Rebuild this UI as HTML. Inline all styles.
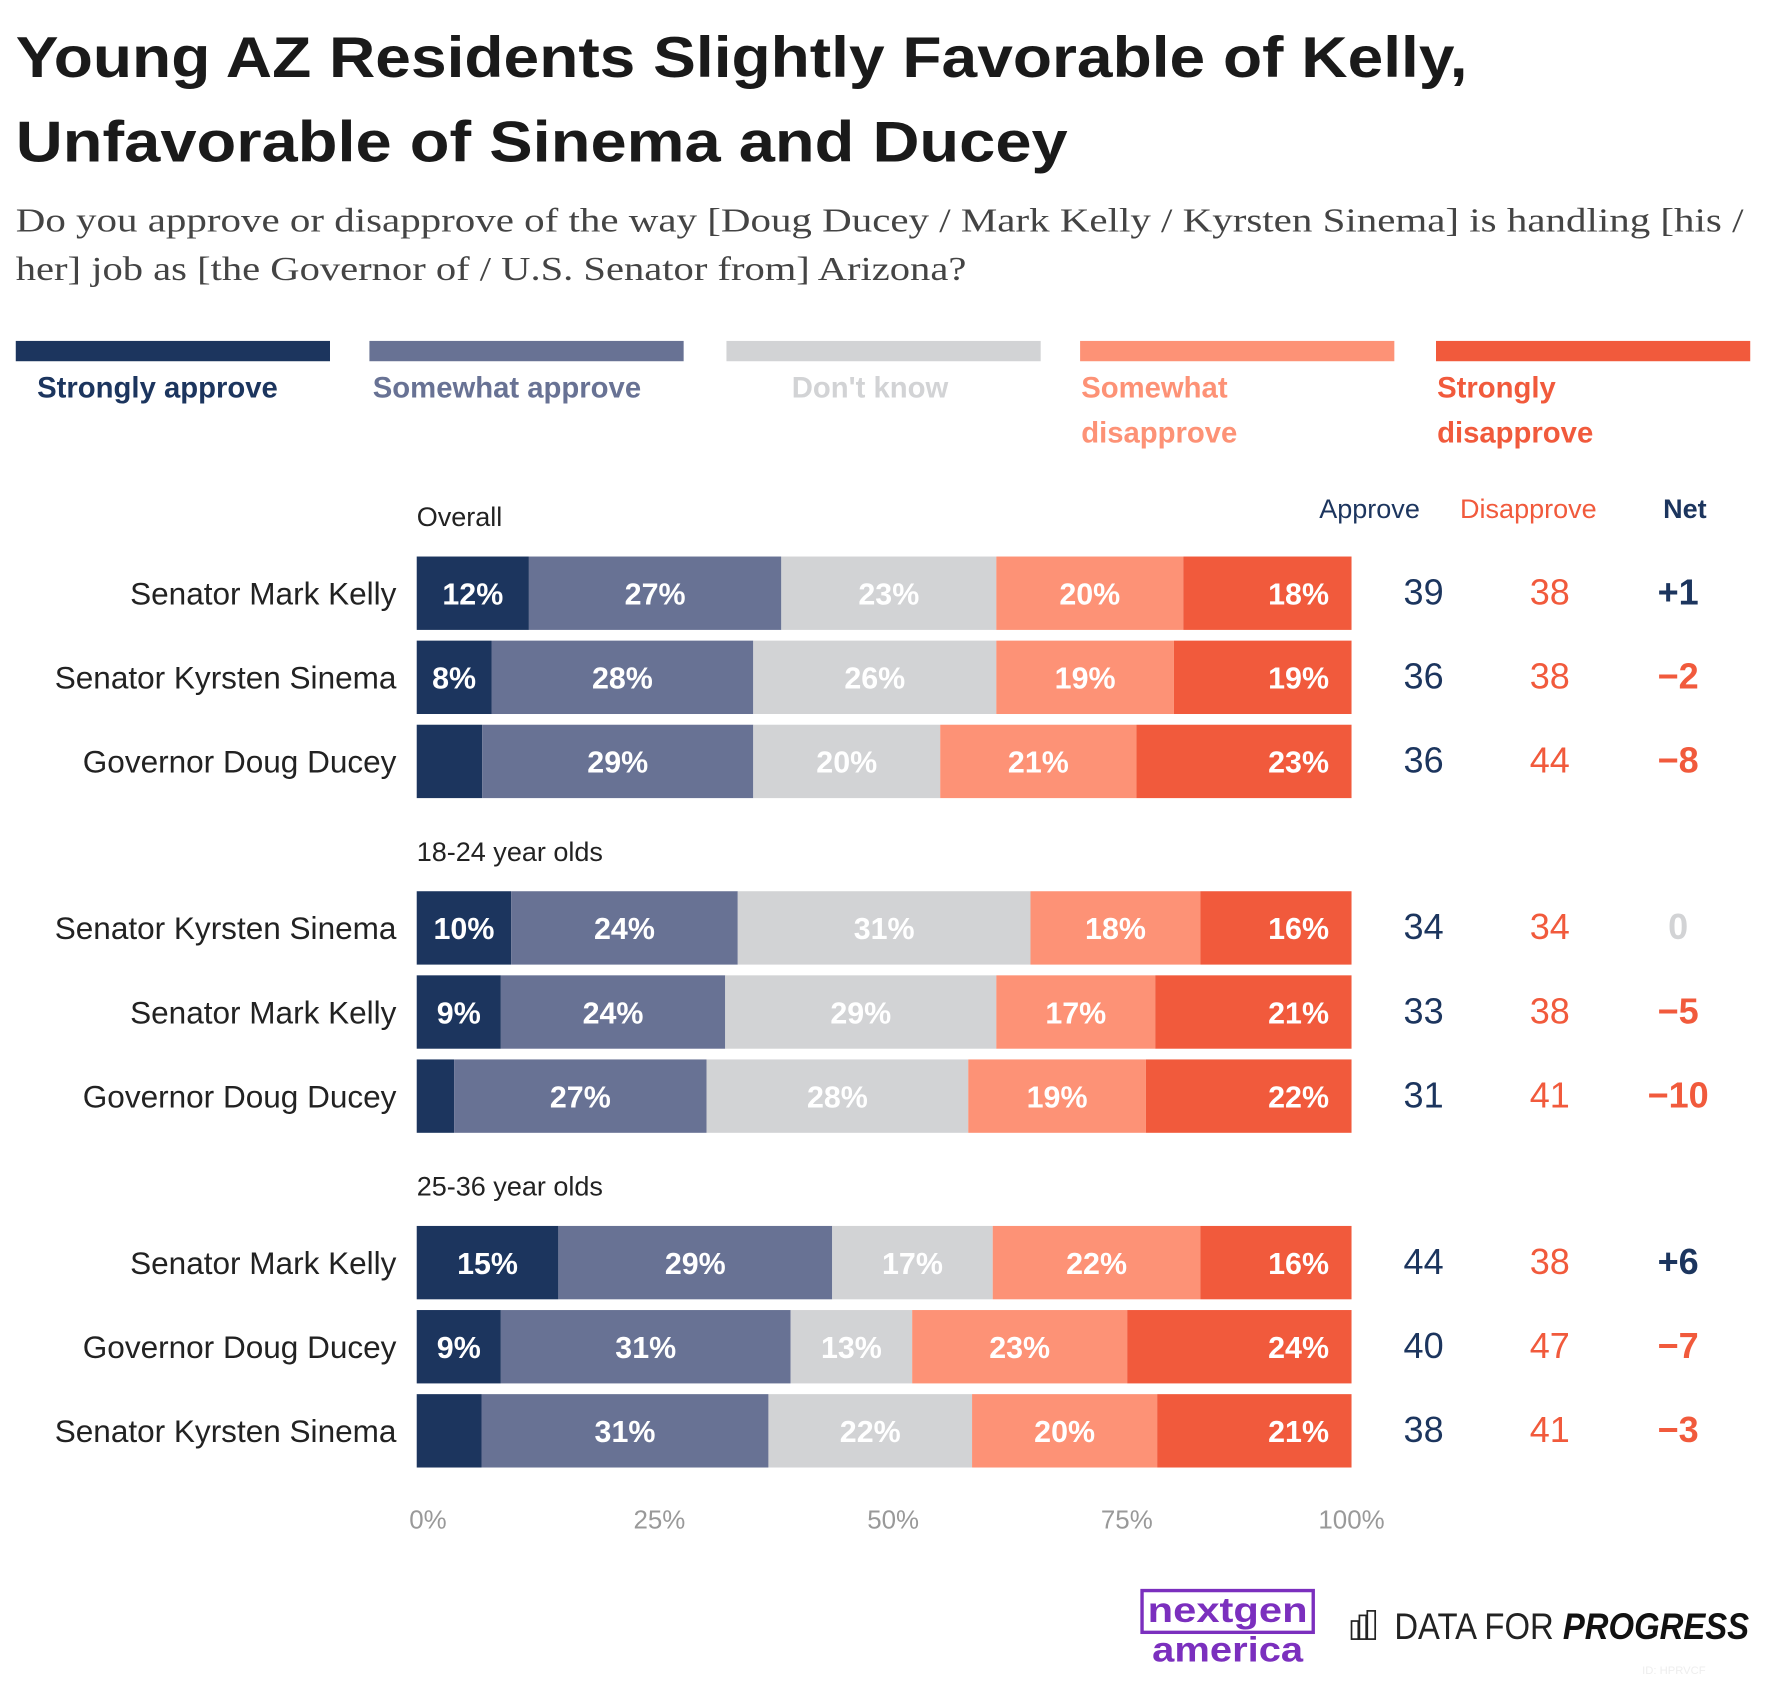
<!DOCTYPE html>
<html><head><meta charset="utf-8"><style>
html,body{margin:0;padding:0;background:#fff;}
svg{display:block;font-family:"Liberation Sans",sans-serif;}
</style></head><body>
<svg id="chart" width="1766" height="1682" viewBox="0 0 1568 1490" preserveAspectRatio="none">
<text x="14" y="68" font-size="51" font-weight="bold" fill="#1a1a1a" textLength="1289" lengthAdjust="spacingAndGlyphs">Young AZ Residents Slightly Favorable of Kelly,</text>
<text x="14" y="143" font-size="51" font-weight="bold" fill="#1a1a1a" textLength="934" lengthAdjust="spacingAndGlyphs">Unfavorable of Sinema and Ducey</text>
<text x="14" y="205" font-size="30" fill="#444" font-family="Liberation Serif,serif" textLength="1534" lengthAdjust="spacingAndGlyphs">Do you approve or disapprove of the way [Doug Ducey / Mark Kelly / Kyrsten Sinema] is handling [his /</text>
<text x="14" y="248" font-size="30" fill="#444" font-family="Liberation Serif,serif" textLength="844" lengthAdjust="spacingAndGlyphs">her] job as [the Governor of / U.S. Senator from] Arizona?</text>
<g id="legend"></g>
<g id="bars"></g>
<text x="1216" y="459" text-anchor="middle" font-size="24" fill="#1c355e">Approve</text>
<text x="1357" y="459" text-anchor="middle" font-size="24" fill="#f15a3c">Disapprove</text>
<text x="1496" y="459" text-anchor="middle" font-size="24" font-weight="bold" fill="#1c355e">Net</text>
<g id="axis"></g>
<g>
<rect x="1014" y="1409" width="152" height="37" fill="none" stroke="#7b2fbe" stroke-width="3"/>
<text x="1090" y="1437" text-anchor="middle" font-size="31" font-weight="bold" fill="#7b2fbe" textLength="142" lengthAdjust="spacingAndGlyphs">nextgen</text>
<text x="1090" y="1472" text-anchor="middle" font-size="31" font-weight="bold" fill="#7b2fbe" textLength="134" lengthAdjust="spacingAndGlyphs">america</text>
</g>
<g>
<rect x="1200" y="1436" width="6" height="16" fill="none" stroke="#222" stroke-width="1.5"/>
<rect x="1207" y="1431" width="6" height="21" fill="none" stroke="#222" stroke-width="1.5"/>
<rect x="1214" y="1427" width="7" height="25" fill="none" stroke="#222" stroke-width="1.5"/>
<text x="1238" y="1452" font-size="33" fill="#222" textLength="315" lengthAdjust="spacingAndGlyphs">DATA FOR <tspan font-weight="bold" font-style="italic" fill="#111">PROGRESS</tspan></text>
<text x="1458" y="1483" font-size="10" fill="#eee">ID: HPRVCF</text>
</g>
</svg>
<script>
const NS="http://www.w3.org/2000/svg";
const seriesNames=["Strongly approve","Somewhat approve","Don't know","Somewhat disapprove","Strongly disapprove"];
const colors=["#1c355e","#687294","#d2d3d5","#fd9276","#f15a3c"];
const groups=["Overall","18-24 year olds","25-36 year olds"];
const rowLabels=["Senator Mark Kelly","Senator Kyrsten Sinema","Governor Doug Ducey","Senator Kyrsten Sinema","Senator Mark Kelly","Governor Doug Ducey","Senator Mark Kelly","Governor Doug Ducey","Senator Kyrsten Sinema"];
const strongApprove=[12,8,7,10,9,4,15,9,7];
const someApprove=[27,28,29,24,24,27,29,31,31];
const dontKnow=[23,26,20,31,29,28,17,13,22];
const someDisapprove=[20,19,21,18,17,19,22,23,20];
const strongDisapprove=[18,19,23,16,21,22,16,24,21];
const approveTotals=[39,36,36,34,33,31,44,40,38];
const disapproveTotals=[38,38,44,34,38,41,38,47,41];
const netValues=[1,-2,-8,0,-5,-10,6,-7,-3];
const tickValues=[0,25,50,75,100];
const tickLabels=["0%","25%","50%","75%","100%"];

const X0=370,X1=1200;
const xs=v=>X0+(X1-X0)*v/100;
function rowY(i){const g=Math.floor(i/3),r=i%3;return 493+g*296.5+r*74.5;}
const BH=65;
function mk(tag,attrs,parent){const e=document.createElementNS(NS,tag);for(const k in attrs)e.setAttribute(k,attrs[k]);parent.appendChild(e);return e;}

const legend=document.getElementById('legend');
const legX=[14,328,645,959,1275];
const legLines=[["Strongly approve"],["Somewhat approve"],["Don't know"],["Somewhat","disapprove"],["Strongly","disapprove"]];
seriesNames.forEach((n,i)=>{
  const r=mk('rect',{x:legX[i],y:302,width:279,height:18,fill:colors[i]},legend);
  
  
  legLines[i].forEach((l,j)=>{
    const t=mk('text',{x:legX[i]+(i<2?i==0?19:3:i==2?58:1),y:352+j*40,'font-size':26,'font-weight':'bold',fill:colors[i]},legend);
    
    
    t.textContent=l;
  });
});

const bars=document.getElementById('bars');
groups.forEach((g,k)=>{
  const t=mk('text',{x:370,y:466+k*296.5,'font-size':24,fill:'#222'},bars);
  
  
  t.textContent=g;
});
const series=[strongApprove,someApprove,dontKnow,someDisapprove,strongDisapprove];
rowLabels.forEach((lab,i)=>{
  const y=rowY(i);
  const t=mk('text',{x:352,y:y+BH/2+10,'text-anchor':'end','font-size':28,fill:'#222'},bars);
  
  
  t.textContent=lab;
  const total=series.reduce((s,a)=>s+a[i],0);
  let cum=0;
  series.forEach((a,j)=>{
    const v=a[i];
    const x0=xs(cum/total*100),x1=xs((cum+v)/total*100);
    const r=mk('rect',{x:x0,y:y,width:x1-x0,height:BH,fill:colors[j]},bars);
    
    
    if(v>=8){
      const tx=mk('text',{x:j==4?x1-20:(x0+x1)/2,y:y+BH/2+10,'text-anchor':j==4?'end':'middle','font-size':27,'font-weight':'bold',fill:'#fff'},bars);
      
      
      tx.textContent=v+'%';
    }
    cum+=v;
  });
  const a=mk('text',{x:1264,y:y+BH/2+10,'text-anchor':'middle','font-size':32,fill:'#1c355e'},bars);
  
  
  a.textContent=approveTotals[i];
  const d=mk('text',{x:1376,y:y+BH/2+10,'text-anchor':'middle','font-size':32,fill:'#f15a3c'},bars);
  
  
  d.textContent=disapproveTotals[i];
  const nv=netValues[i];
  const n=mk('text',{x:1490,y:y+BH/2+10,'text-anchor':'middle','font-size':32,'font-weight':'bold',fill:nv>0?'#1c355e':nv<0?'#f15a3c':'#d2d3d5'},bars);
  
  
  n.textContent=nv>0?'+'+nv:nv<0?'\u2212'+(-nv):'0';
});

const axis=document.getElementById('axis');
tickValues.forEach((v,i)=>{
  const t=mk('text',{x:xs(v)+(i==0?10:i==4?0:8),y:1354,'text-anchor':'middle','font-size':23,fill:'#999'},axis);
  
  
  t.textContent=tickLabels[i];
});
</script>
</body></html>
